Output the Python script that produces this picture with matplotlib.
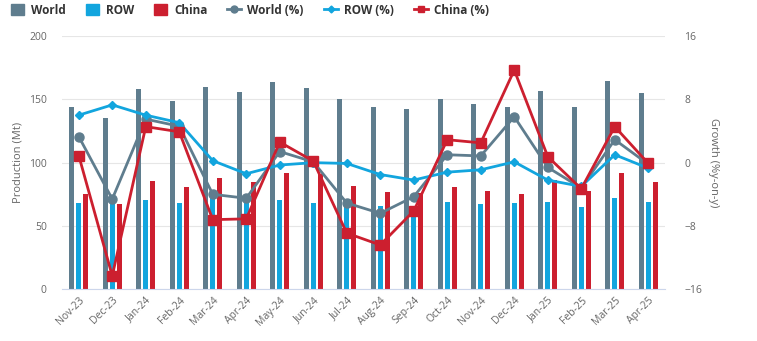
import numpy as np
import matplotlib.pyplot as plt
from matplotlib.patches import Patch
from matplotlib.lines import Line2D

plt.rcParams['font.family'] = ['Open Sans', 'DejaVu Sans']

months = ['Nov-23', 'Dec-23', 'Jan-24', 'Feb-24', 'Mar-24', 'Apr-24', 'May-24', 'Jun-24',
          'Jul-24', 'Aug-24', 'Sep-24', 'Oct-24', 'Nov-24', 'Dec-24', 'Jan-25', 'Feb-25',
          'Mar-25', 'Apr-25']

world = [144, 135.6, 157.8, 149, 160, 155.5, 164, 159, 150.4, 143.6, 142.5, 150.4,
         146, 143.6, 156.2, 143.6, 164.7, 154.7]
row = [68.5, 69, 70.6, 68.5, 72, 70, 70.6, 68.5, 66.6, 65.8, 62.7, 69.3,
       67.7, 68.5, 69.3, 65.3, 72.4, 69.3]
china = [75.6, 67.7, 85.6, 81, 88, 84.8, 92.2, 90.9, 81.9, 77.2, 76, 81,
         77.7, 75.6, 86.4, 77.7, 92.2, 84.8]

world_pct = [3.3, -4.6, 5.5, 4.6, -4.0, -4.5, 1.4, 0.1, -5.1, -6.4, -4.3, 1.0,
             0.85, 5.8, -0.6, -3.2, 2.9, -0.2]
row_pct = [6.0, 7.3, 6.0, 5.05, 0.25, -1.4, -0.3, 0.0, -0.1, -1.5, -2.2, -1.2,
           -0.9, 0.1, -2.2, -3.0, 1.0, -0.7]
china_pct = [0.9, -14.3, 4.55, 3.9, -7.2, -7.1, 2.6, 0.2, -8.9, -10.4, -6.1, 2.9,
             2.5, 11.7, 0.76, -3.3, 4.55, -0.1]

c_world = '#5f7d8e'
c_row = '#12a5de'
c_china = '#cc1f2f'
tick_col = '#666666'

fig = plt.figure(figsize=(7.57, 3.41), dpi=100)
ax = fig.add_axes([0.0819, 0.1516, 0.7966, 0.7428])
ax2 = ax.twinx()

x = np.arange(len(months))
bw = 0.15
ax.bar(x - 0.21, world, bw, color=c_world, zorder=2)
ax.bar(x, row, bw, color=c_row, zorder=2)
ax.bar(x + 0.21, china, bw, color=c_china, zorder=2)

ax.set_xlim(-0.5, len(months) - 0.5)
ax.set_ylim(0, 200)
ax.set_yticks([0, 50, 100, 150, 200])
ax.grid(axis='y', color='#e6e6e6', lw=0.8, zorder=0)
ax.set_axisbelow(True)

ax2.plot(x, world_pct, color=c_world, lw=2, marker='o', ms=6.5, zorder=3)
ax2.plot(x, row_pct, color=c_row, lw=2, marker='D', ms=4.5, zorder=3)
ax2.plot(x, china_pct, color=c_china, lw=2, marker='s', ms=7, zorder=4)
ax2.set_ylim(-16, 16)
ax2.set_yticks([-16, -8, 0, 8, 16])

for a in (ax, ax2):
    for s in a.spines.values():
        s.set_visible(False)
    a.tick_params(length=0, colors=tick_col, labelsize=7.5)
ax.spines['bottom'].set_visible(True)
ax.spines['bottom'].set_color('#ccd6eb')

ax.set_xticks(x)
ax.set_xticklabels(months, rotation=45, ha='right', rotation_mode='anchor')
ax.tick_params(axis='x', pad=4)
ax.tick_params(axis='y', pad=11)
ax2.tick_params(axis='y', pad=14)

ax.set_ylabel('Production (Mt)', color=tick_col, fontsize=8)
ax2.set_ylabel('Growth (%y-on-y)', color=tick_col, fontsize=8, rotation=270, labelpad=12)

handles = [
    Patch(color=c_world, label='World'),
    Patch(color=c_row, label='ROW'),
    Patch(color=c_china, label='China'),
    Line2D([], [], color=c_world, lw=2, marker='o', ms=5, label='World (%)'),
    Line2D([], [], color=c_row, lw=2, marker='D', ms=3.5, label='ROW (%)'),
    Line2D([], [], color=c_china, lw=2, marker='s', ms=5, label='China (%)'),
]
leg = fig.legend(handles=handles, loc='upper left', bbox_to_anchor=(0.0, 1.02), ncol=6,
                 frameon=False, prop={'size': 8.5, 'weight': 'bold'},
                 handlelength=1.15, handleheight=1.0, columnspacing=1.7, handletextpad=0.55)
for t in leg.get_texts():
    t.set_color('#333333')

fig.savefig('out.png', dpi=100)
